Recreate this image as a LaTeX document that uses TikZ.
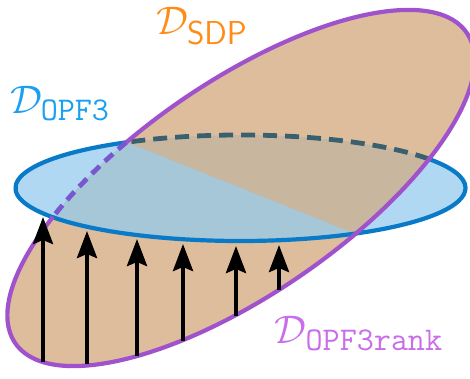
\documentclass[tikz,border=0pt]{standalone}
\usepackage{amsmath,amssymb}
\usepackage{tikz}
\usetikzlibrary{arrows.meta,calc}
\definecolor{sdptan}{RGB}{222,189,157}
\definecolor{opfblue}{RGB}{177,216,242}
\definecolor{mixblue}{RGB}{166,199,216}
\definecolor{mixtan}{RGB}{201,182,158}
\definecolor{rimpurple}{RGB}{160,82,204}
\definecolor{hidpurple}{RGB}{120,88,208}
\definecolor{rimblue}{RGB}{8,122,200}
\definecolor{hidteal}{RGB}{58,96,112}
\definecolor{sdporange}{RGB}{255,140,25}
\definecolor{opfcyan}{RGB}{25,160,240}
\definecolor{rankviolet}{RGB}{200,110,235}

\begin{document}
\begin{tikzpicture}[x=1pt,y=1pt,
  tilted/.style={shift={(241,191)},rotate=34.5},
  flat/.style={shift={(240.5,191)}},
  rim/.style={line width=4.2pt},
  hidden/.style={line width=4.8pt},
  lift/.style={-{Stealth[length=27pt,width=20pt,inset=4pt]},line width=4pt},
  setlabel/.style={inner sep=0pt,font=\Huge,scale=1.6},
]
\clip (0,0) rectangle (470,379);

% the two sets, filled
\fill[sdptan,tilted] (0,0) ellipse[x radius=274,y radius=106];
\fill[opfblue,flat] (0,0) ellipse[x radius=225,y radius=53];
\begin{scope}[tilted]
  \coordinate (ia) at (104.45:274 and 106);
  \coordinate (ib) at (284.45:274 and 106);
\end{scope}
\coordinate (la) at ($(ia)!-1!(ib)$);
\coordinate (lb) at ($(ia)!2!(ib)$);
\coordinate (bot) at (0,-300);

% overlap, split along the cut line
\begin{scope}
  \clip[flat] (0,0) ellipse[x radius=225,y radius=53];
  \clip[tilted] (0,0) ellipse[x radius=274,y radius=106];
  \fill[mixtan] (0,0) rectangle (470,379);
  \fill[mixblue] (la) -- (lb) -- (lb |- bot) -- (la |- bot) -- cycle;
\end{scope}

% outlines
\begin{scope}[flat]
  \draw[hidden,hidteal,dash pattern=on 14pt off 8pt] (33.2:225 and 53)
    arc[start angle=33.2,end angle=120.5,x radius=225,y radius=53];
  \draw[rim,rimblue] (120.5:225 and 53)
    arc[start angle=120.5,end angle=393.2,x radius=225,y radius=53];
\end{scope}
\begin{scope}[tilted]
  \draw[hidden,hidpurple,dash pattern=on 11pt off 7pt] (104.45:274 and 106)
    arc[start angle=104.45,end angle=128.67,x radius=274,y radius=106];
  \draw[rim,rimpurple] (128.67:274 and 106)
    arc[start angle=128.67,end angle=464.45,x radius=274,y radius=106];
\end{scope}

\foreach \i/\x/\yb/\yt in {1/43/17/162,2/87/15/148,3/137/23/140,4/183/38/135,5/236/63/133,6/279/89/134}{
  \coordinate (base\i) at (\x,\yb);
  \coordinate (tip\i) at (\x,\yt);
  \draw[lift] (base\i) -- (tip\i);
}

\node[setlabel,text=sdporange] (sdp) at (202,353) {$\mathcal{D}_{\mathsf{SDP}}$};
\node[setlabel,text=opfcyan] (opf) at (60,275.5) {$\mathcal{D}_{\mathtt{OPF3}}$};
\node[setlabel,text=rankviolet] (rank) at (359,45.5) {$\mathcal{D}_{\mathtt{OPF3rank}}$};
\end{tikzpicture}
\end{document}
